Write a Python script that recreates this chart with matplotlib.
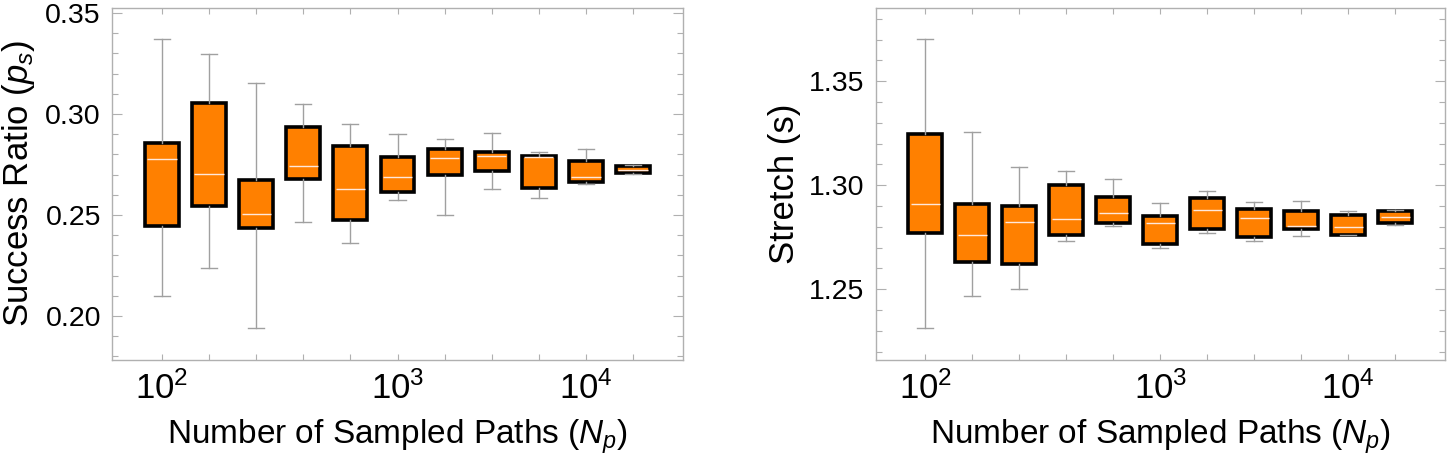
import matplotlib
matplotlib.use("Agg")
import matplotlib.pyplot as plt
from matplotlib.ticker import FixedLocator, MultipleLocator

plt.rcParams['font.family'] = ['Liberation Sans', 'DejaVu Sans']
plt.rcParams['mathtext.fontset'] = 'custom'
plt.rcParams['mathtext.rm'] = 'Liberation Sans'
plt.rcParams['mathtext.it'] = 'Liberation Sans:italic'

# ---- data ----
categories = ['$10^{2}$', '', '', '', '', '$10^{3}$', '', '', '', '$10^{4}$', '']

ps_whislo = [0.2099, 0.2236, 0.1941, 0.2464, 0.2360, 0.2573, 0.2502, 0.2630, 0.2586, 0.2653, 0.2701]
ps_q1     = [0.2447, 0.2546, 0.2436, 0.2677, 0.2474, 0.2615, 0.2698, 0.2718, 0.2632, 0.2663, 0.2706]
ps_med    = [0.2777, 0.2704, 0.2503, 0.2741, 0.2627, 0.2687, 0.2781, 0.2794, 0.2786, 0.2690, 0.2724]
ps_q3     = [0.2858, 0.3053, 0.2672, 0.2936, 0.2843, 0.2786, 0.2828, 0.2810, 0.2794, 0.2767, 0.2743]
ps_whishi = [0.3370, 0.3295, 0.3155, 0.3051, 0.2950, 0.2900, 0.2875, 0.2904, 0.2812, 0.2825, 0.2748]

st_whislo = [1.2316, 1.2466, 1.2502, 1.2733, 1.2803, 1.2699, 1.2768, 1.2734, 1.2757, 1.2760, 1.2810]
st_q1     = [1.2768, 1.2632, 1.2619, 1.2760, 1.2819, 1.2718, 1.2788, 1.2753, 1.2790, 1.2760, 1.2816]
st_med    = [1.2912, 1.2762, 1.2821, 1.2837, 1.2865, 1.2816, 1.2882, 1.2841, 1.2803, 1.2800, 1.2846]
st_q3     = [1.3245, 1.2912, 1.2898, 1.2999, 1.2941, 1.2853, 1.2939, 1.2887, 1.2878, 1.2859, 1.2877]
st_whishi = [1.3704, 1.3257, 1.3088, 1.3067, 1.3031, 1.2915, 1.2971, 1.2920, 1.2923, 1.2874, 1.2883]

ps_yticks = [0.20, 0.25, 0.30, 0.35]
st_yticks = [1.25, 1.30, 1.35]

ORANGE = '#FF8000'
GRAY = '#A0A0A0'
FRAME = '#B0B0B0'

fig = plt.figure(figsize=(14.48, 4.57), dpi=100)
ax1 = fig.add_axes([112/1448, 1-360/457, 571/1448, 352.5/457])
ax2 = fig.add_axes([875.5/1448, 1-360/457, 569.5/1448, 352.5/457])


def draw(ax, lo, q1, med, q3, hi, ylim, yticks, ylabel):
    n = len(med)
    pos = list(range(1, n + 1))
    stats = [dict(whislo=lo[i], q1=q1[i], med=med[i], q3=q3[i], whishi=hi[i], fliers=[])
             for i in range(n)]
    w = 0.72
    ax.bxp(stats, positions=pos, widths=w, patch_artist=True, showfliers=False,
           boxprops=dict(facecolor=ORANGE, edgecolor='black', linewidth=2.6),
           whiskerprops=dict(color=GRAY, linewidth=1.0),
           capprops=dict(color=GRAY, linewidth=1.0),
           capwidths=0.34,
           medianprops=dict(linewidth=0))
    ax.hlines(med, [p - w/2 + 0.05 for p in pos], [p + w/2 - 0.05 for p in pos],
              color='#FFE8DC', linewidth=1.0, zorder=5)
    ax.set_xlim(-0.06, n + 1.06)
    ax.set_ylim(*ylim)
    ax.xaxis.set_major_locator(FixedLocator(pos))
    ax.yaxis.set_major_locator(FixedLocator(yticks))
    ax.yaxis.set_minor_locator(MultipleLocator(0.01))
    ax.tick_params(axis='both', which='both', direction='in', top=True, right=True,
                   color=FRAME, labelcolor='black')
    ax.tick_params(axis='x', which='major', length=4, width=0.8, pad=8)
    ax.tick_params(axis='y', which='major', length=7, width=0.8, pad=8)
    ax.tick_params(axis='y', which='minor', length=4, width=0.8)
    ax.set_xticklabels(categories, fontsize=25)
    ax.set_yticklabels([f'{t:.2f}' for t in yticks], fontsize=20.5)
    for s in ax.spines.values():
        s.set_color(FRAME)
        s.set_linewidth(1.0)
    ax.set_xlabel('Number of Sampled Paths ($N_p$)', fontsize=24, labelpad=8.5)
    ax.set_ylabel(ylabel, fontsize=25, labelpad=6)


draw(ax1, ps_whislo, ps_q1, ps_med, ps_q3, ps_whishi, (0.1782, 0.3527), ps_yticks,
     'Success Ratio ($p_s$)')
draw(ax2, st_whislo, st_q1, st_med, st_q3, st_whishi, (1.216, 1.3854), st_yticks,
     'Stretch (s)')

fig.savefig('out.png', dpi=100)
